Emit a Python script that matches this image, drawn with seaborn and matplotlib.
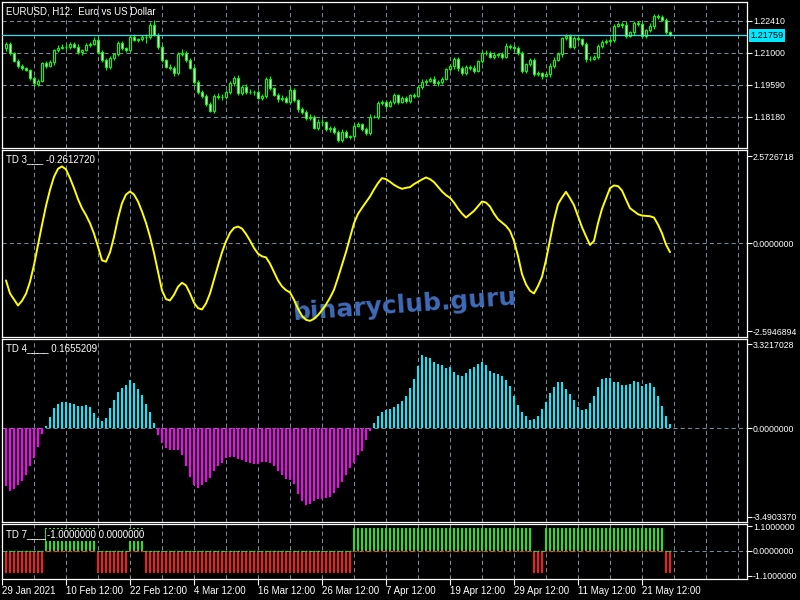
import numpy as np
import matplotlib
matplotlib.use("Agg")
import matplotlib.pyplot as plt
import matplotlib.transforms as mtransforms
import seaborn as sns

# EURUSD H12 candles (close of each bar, open of the first bar)
first_open = 1.21196
closes = [1.21372, 1.20989, 1.20637, 1.20417, 1.20329, 1.20241, 1.19889, 1.19647, 1.19779, 1.20527,
          1.20417, 1.20580, 1.21121, 1.21222, 1.21266, 1.21260, 1.21372, 1.21266, 1.21046, 1.21121,
          1.21341, 1.21385, 1.21561, 1.21046, 1.20681, 1.20360, 1.20756, 1.20945, 1.21416, 1.21196,
          1.21121, 1.21706, 1.21561, 1.21592, 1.21706, 1.21680, 1.22221, 1.21781, 1.21266, 1.20681,
          1.20386, 1.20342, 1.20096, 1.20932, 1.21002, 1.20681, 1.20342, 1.19700, 1.19286, 1.19110,
          1.18732, 1.18437, 1.19097, 1.19066, 1.19040, 1.19286, 1.19656, 1.19902, 1.19216, 1.19506,
          1.19286, 1.19260, 1.19255, 1.19022, 1.19110, 1.19845, 1.19436, 1.19141, 1.18952, 1.19022,
          1.18846, 1.19361, 1.18921, 1.18512, 1.18380, 1.18142, 1.18186, 1.17702, 1.17966, 1.17940,
          1.17645, 1.17702, 1.17500, 1.17161, 1.17526, 1.17306, 1.17337, 1.17790, 1.17852, 1.17645,
          1.17482, 1.18186, 1.18190, 1.18776, 1.18846, 1.18670, 1.18820, 1.19141, 1.18846, 1.18996,
          1.18890, 1.19141, 1.19110, 1.19506, 1.19700, 1.19770, 1.19845, 1.19656, 1.19700, 1.19845,
          1.20285, 1.20404, 1.20725, 1.20342, 1.20096, 1.20360, 1.20342, 1.20197, 1.20637, 1.20976,
          1.21002, 1.20826, 1.20901, 1.20932, 1.20830, 1.21310, 1.21240, 1.21196, 1.20976, 1.20197,
          1.20492, 1.20681, 1.20052, 1.20096, 1.19977, 1.20052, 1.20430, 1.20681, 1.20932, 1.21636,
          1.21737, 1.21266, 1.21636, 1.21605, 1.21372, 1.20725, 1.20720, 1.20826, 1.21310, 1.21460,
          1.21517, 1.21561, 1.22190, 1.22252, 1.22221, 1.21750, 1.21900, 1.22296, 1.22252, 1.21750,
          1.21988, 1.22164, 1.22617, 1.22573, 1.22454, 1.21926, 1.21759]
# wick lengths in pips above / below the body
upper_wick_pips = [8, 12, 6, 10, 8, 6, 5, 10, 8, 6, 10, 8, 6, 12, 14, 10, 8, 12, 14, 6,
                   8, 10, 12, 16, 6, 8, 10, 6, 8, 10, 6, 8, 10, 6, 8, 14, 12, 22, 8, 6,
                   6, 10, 6, 8, 18, 6, 8, 6, 8, 6, 6, 8, 10, 14, 10, 8, 12, 8, 10, 6,
                   14, 10, 8, 10, 6, 8, 12, 6, 8, 10, 6, 14, 8, 6, 8, 10, 14, 6, 10, 12,
                   6, 8, 6, 8, 10, 8, 6, 10, 8, 6, 8, 12, 8, 10, 6, 8, 10, 8, 6, 12,
                   8, 6, 10, 8, 14, 8, 10, 12, 8, 10, 6, 8, 8, 10, 6, 12, 8, 10, 6, 8,
                   10, 8, 12, 6, 8, 10, 6, 8, 10, 8, 6, 8, 10, 12, 6, 8, 10, 14, 8, 6,
                   8, 10, 8, 12, 6, 10, 14, 6, 8, 10, 8, 10, 6, 12, 8, 18, 6, 10, 12, 8,
                   6, 14, 8, 10, 8, 6, 4]
lower_wick_pips = [10, 8, 6, 8, 10, 6, 8, 10, 12, 6, 8, 6, 10, 8, 6, 12, 8, 6, 10, 14,
                   6, 8, 6, 10, 8, 12, 6, 8, 10, 6, 8, 10, 6, 8, 6, 24, 8, 6, 10, 8,
                   6, 8, 12, 6, 8, 10, 6, 8, 12, 10, 8, 6, 10, 8, 12, 6, 8, 10, 6, 8,
                   10, 8, 12, 6, 8, 10, 8, 6, 10, 8, 6, 10, 8, 12, 6, 8, 10, 6, 8, 12,
                   8, 14, 6, 10, 8, 6, 8, 10, 6, 8, 12, 8, 6, 10, 8, 12, 6, 8, 10, 6,
                   8, 10, 12, 6, 8, 10, 6, 8, 12, 8, 6, 8, 10, 14, 8, 6, 10, 8, 6, 10,
                   8, 6, 12, 8, 10, 6, 8, 12, 6, 8, 10, 8, 6, 8, 12, 6, 10, 8, 6, 12,
                   8, 6, 10, 8, 6, 12, 8, 6, 10, 8, 6, 10, 8, 6, 12, 8, 6, 10, 8, 6,
                   8, 6, 10, 8, 6, 8, 4]
last_price = 1.21759

td3 = [-1.096, -1.481, -1.658, -1.836, -1.698, -1.490, -1.135, -0.642, -0.049, 0.543,
       1.105, 1.579, 1.964, 2.201, 2.270, 2.181, 1.925, 1.629, 1.303, 1.036,
       0.829, 0.592, 0.286, -0.099, -0.503, -0.543, -0.266, 0.188, 0.740, 1.184,
       1.441, 1.530, 1.441, 1.234, 0.938, 0.602, 0.197, -0.286, -0.839, -1.392,
       -1.648, -1.688, -1.520, -1.283, -1.165, -1.244, -1.481, -1.757, -1.915, -1.954,
       -1.777, -1.481, -1.066, -0.661, -0.266, 0.059, 0.306, 0.454, 0.494, 0.434,
       0.276, 0.079, -0.138, -0.306, -0.385, -0.415, -0.602, -0.849, -1.096, -1.273,
       -1.382, -1.451, -1.668, -1.935, -2.142, -2.260, -2.290, -2.231, -2.122, -1.974,
       -1.806, -1.609, -1.372, -1.017, -0.642, -0.257, 0.168, 0.592, 0.869, 1.046,
       1.214, 1.382, 1.589, 1.777, 1.925, 1.895, 1.816, 1.727, 1.658, 1.609,
       1.638, 1.658, 1.747, 1.816, 1.885, 1.944, 1.895, 1.806, 1.668, 1.530,
       1.421, 1.342, 1.204, 1.026, 0.878, 0.760, 0.859, 0.957, 1.096, 1.234,
       1.204, 1.086, 0.878, 0.711, 0.612, 0.513, 0.365, 0.069, -0.375, -0.908,
       -1.214, -1.402, -1.481, -1.263, -0.987, -0.494, 0.099, 0.691, 1.155, 1.352,
       1.520, 1.332, 1.125, 0.799, 0.474, 0.207, -0.049, 0.069, 0.592, 1.017,
       1.323, 1.629, 1.708, 1.688, 1.559, 1.293, 1.036, 0.948, 0.859, 0.819,
       0.809, 0.799, 0.760, 0.553, 0.296, -0.039, -0.2612720]

td4 = [-2.265, -2.463, -2.397, -2.226, -2.068, -1.844, -1.475, -1.185, -0.724, -0.237,
       0.092, 0.448, 0.803, 0.961, 1.040, 1.040, 1.001, 0.961, 0.896, 0.896,
       0.922, 0.843, 0.606, 0.421, 0.290, 0.408, 0.790, 1.119, 1.436, 1.607,
       1.725, 1.910, 1.791, 1.554, 1.317, 0.961, 0.645, 0.211, -0.250, -0.579,
       -0.764, -0.856, -0.856, -0.856, -1.040, -1.475, -1.910, -2.239, -2.344, -2.239,
       -2.107, -1.949, -1.686, -1.475, -1.357, -1.159, -1.119, -1.146, -1.198, -1.264,
       -1.330, -1.370, -1.396, -1.409, -1.343, -1.330, -1.357, -1.488, -1.686, -1.857,
       -2.002, -2.055, -2.213, -2.581, -2.871, -3.029, -2.990, -2.858, -2.805, -2.805,
       -2.766, -2.700, -2.555, -2.371, -2.107, -1.844, -1.580, -1.357, -1.054, -0.896,
       -0.461, -0.092, 0.198, 0.487, 0.632, 0.724, 0.764, 0.856, 0.948, 1.080,
       1.277, 1.607, 1.949, 2.463, 2.897, 2.818, 2.779, 2.608, 2.529, 2.502,
       2.397, 2.423, 2.239, 2.107, 2.081, 2.186, 2.344, 2.410, 2.542, 2.621,
       2.502, 2.278, 2.186, 2.147, 2.068, 1.910, 1.673, 1.277, 0.922, 0.645,
       0.487, 0.329, 0.356, 0.500, 0.764, 1.040, 1.396, 1.646, 1.831, 1.831,
       1.541, 1.343, 1.119, 0.856, 0.724, 0.764, 0.988, 1.277, 1.620, 1.962,
       2.002, 1.976, 1.844, 1.817, 1.712, 1.712, 1.752, 1.857, 1.817, 1.673,
       1.752, 1.778, 1.620, 1.277, 0.882, 0.487, 0.1655209]

# TD 7 signal as runs of (value, number of bars)
td7_runs = [(-1, 10), (1, 13), (-1, 8), (1, 4), (-1, 52), (1, 45), (-1, 3), (1, 30), (-1, 2)]

price_ticks = [1.22410, 1.21000, 1.19590, 1.18180]
td3_ticks = [2.5726718, 0.0, -2.5946894]
td4_ticks = [3.3217028, 0.0, -3.4903370]
td7_ticks = [1.1, 0.0, -1.1]

x_labels = ["29 Jan 2021", "10 Feb 12:00", "22 Feb 12:00", "4 Mar 12:00", "16 Mar 12:00",
            "26 Mar 12:00", "7 Apr 12:00", "19 Apr 12:00", "29 Apr 12:00", "11 May 12:00",
            "21 May 12:00"]

LIME = "#00ff00"
GRID = "#778899"
CYAN = "#00eeff"
MAGENTA = "#ff00ff"
GREEN = "#1fe61f"
RED = "#ff1a1a"
W, H = 800, 600

sns.set_theme(style="dark", rc={"axes.facecolor": "black", "figure.facecolor": "black",
                                "text.color": "white"})
plt.rcParams["font.family"] = ["Liberation Sans", "DejaVu Sans"]
plt.rcParams["axes.unicode_minus"] = False

fig = plt.figure(figsize=(W / 100, H / 100), dpi=100)


def px_axes(left, top, right, bottom):
    return fig.add_axes([left / W, 1 - bottom / H, (right - left) / W, (bottom - top) / H])


def style_panel(ax, ylim, ticks, fmt, hlines):
    ax.set_facecolor("black")
    ax.set_xlim(-1, 185.25)
    ax.set_ylim(*ylim)
    for s in ax.spines.values():
        s.set_color("white")
        s.set_linewidth(0.9)
    for i in range(7, 186, 8):
        ax.axvline(i, color=GRID, lw=0.75, ls=(0, (4, 3)), zorder=0)
    for h in hlines:
        ax.axhline(h, color=GRID, lw=0.75, ls=(0, (4, 3)), zorder=0)
    ax.yaxis.tick_right()
    ax.set_yticks(ticks)
    ax.set_yticklabels([fmt.format(t) for t in ticks])
    ax.tick_params(axis="y", colors="white", labelsize=6.3, length=3.5, width=0.8, pad=0.8,
                   right=True, left=False, labelright=True, labelleft=False)
    ax.tick_params(axis="x", bottom=False, labelbottom=False)
    ax.set_xlabel("")
    ax.set_ylabel("")


ax1 = px_axes(2, 2, 747, 148)
ax2 = px_axes(2, 150, 747, 337)
ax3 = px_axes(2, 339, 747, 522)
ax4 = px_axes(2, 524, 747, 579)

idx = np.arange(len(closes))

# price panel
c = np.array(closes)
o = np.r_[first_open, c[:-1]]
highs = np.maximum(o, c) + np.array(upper_wick_pips) * 1e-4
lows = np.minimum(o, c) - np.array(lower_wick_pips) * 1e-4
ax1.vlines(idx, lows, highs, color=LIME, lw=0.8, zorder=2)
faces = np.where(c >= o, "black", "white")
ax1.bar(idx, c - o, bottom=o, width=0.62, color=faces, edgecolor=LIME, linewidth=0.8, zorder=3)
ax1.axhline(last_price, color="#30e0f0", lw=0.9, zorder=4)
style_panel(ax1, (1.16809, 1.23233), price_ticks, "{:.5f}", price_ticks)
ax1.text(1.0045, last_price, f"{last_price:.5f}", color="black", fontsize=6.6, ha="left", va="center",
         transform=mtransforms.blended_transform_factory(ax1.transAxes, ax1.transData),
         bbox=dict(facecolor="#00e8ff", edgecolor="none", pad=1.2), clip_on=False, zorder=6)
ax1.text(4 / 745, 1 - 10 / 146, "EURUSD, H12:  Euro vs US Dollar", color="white", fontsize=7,
         transform=ax1.transAxes, va="center", ha="left")

# TD 3 line
sns.lineplot(x=idx, y=td3, ax=ax2, color="#ffff00", linewidth=1.4, zorder=3)
style_panel(ax2, (-2.767, 2.755), td3_ticks, "{:.7f}", [0.0])
ax2.text(4 / 745, 1 - 9 / 187, f"TD 3___ {td3[-1]:.7f}", color="white", fontsize=7,
         transform=ax2.transAxes, va="center", ha="left")
ax2.text(405 / W, 1 - 305 / H, "binaryclub.guru", transform=fig.transFigure, fontsize=18,
         fontweight="bold", color="#4574c8", alpha=0.92, rotation=4, ha="center", va="center",
         family="DejaVu Sans", zorder=2)

# TD 4 histogram
td4_colors = [CYAN if v > 0 else MAGENTA for v in td4]
ax3.bar(idx, td4, width=0.5, color=td4_colors, linewidth=0, zorder=3)
style_panel(ax3, (-3.701, 3.527), td4_ticks, "{:.7f}", [0.0])
ax3.text(4 / 745, 1 - 9 / 183, f"TD 4____ {td4[-1]:.7f}", color="white", fontsize=7,
         transform=ax3.transAxes, va="center", ha="left")

# TD 7 signal
td7 = np.concatenate([np.full(n, v) for v, n in td7_runs])
td7_colors = [GREEN if v > 0 else RED for v in td7]
other_colors = [RED if v > 0 else GREEN for v in td7]
ax4.bar(idx, td7, width=0.5, color=td7_colors, linewidth=0, zorder=3)
ax4.hlines(np.zeros(len(td7)), idx - 0.25, idx + 0.25, colors=other_colors, lw=1.0, zorder=4)
style_panel(ax4, (-1.25, 1.2), td7_ticks, "{:.7f}", [0.0])
ax4.text(4 / 745, 0.82, "TD 7____", color="white", fontsize=7, transform=ax4.transAxes,
         va="center", ha="left")
ax4.text(45 / 745, 0.80, f"{td7[-1]:.7f} {0:.7f}", color="white", fontsize=7,
         transform=ax4.transAxes, va="center", ha="left", zorder=6,
         bbox=dict(facecolor="black", edgecolor="none", pad=0.8))

tick_pos = [-1 + 16 * j for j in range(len(x_labels))]
ax4.set_xticks(tick_pos)
ax4.set_xticklabels(x_labels)
ax4.tick_params(axis="x", bottom=True, labelbottom=True, colors="white", labelsize=7,
                length=4, width=0.8, pad=1)
for lbl in ax4.get_xticklabels():
    lbl.set_horizontalalignment("left")

fig.savefig("out.png", dpi=100, facecolor="black")
